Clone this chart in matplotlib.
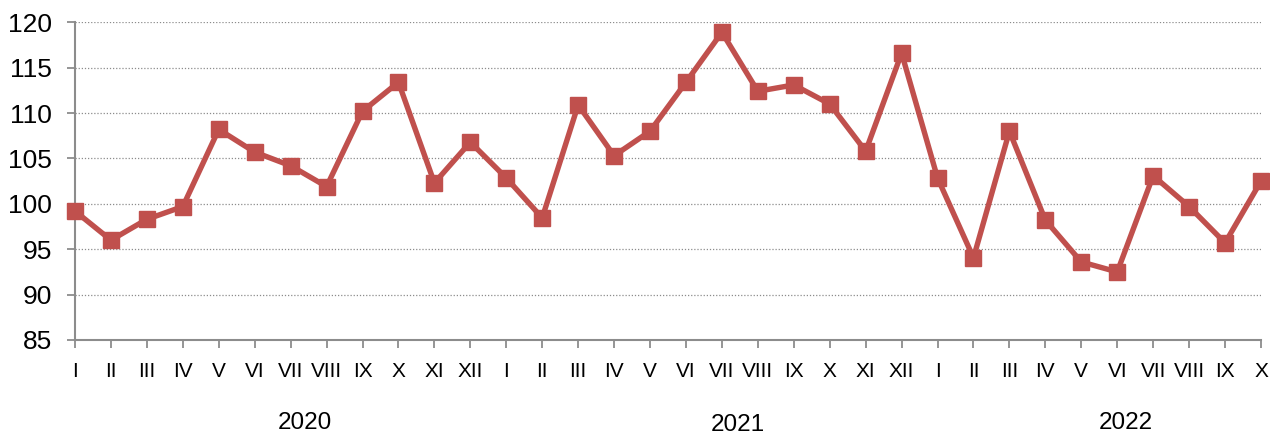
import matplotlib
matplotlib.use("Agg")
import matplotlib.pyplot as plt
import matplotlib.transforms as mtransforms

plt.rcParams['font.family'] = ['Liberation Sans', 'DejaVu Sans']

months = ["I", "II", "III", "IV", "V", "VI", "VII", "VIII", "IX", "X", "XI", "XII",
          "I", "II", "III", "IV", "V", "VI", "VII", "VIII", "IX", "X", "XI", "XII",
          "I", "II", "III", "IV", "V", "VI", "VII", "VIII", "IX", "X"]
values = [99.2, 96.0, 98.3, 99.7, 108.2, 105.7, 104.2, 101.9, 110.2, 113.4, 102.3, 106.8,
          102.85, 98.45, 110.9, 105.3, 108.0, 113.4, 118.9, 112.4, 113.1, 111.0, 105.8, 116.6,
          102.85, 94.05, 108.0, 98.2, 93.6, 92.5, 103.1, 99.7, 95.7, 102.5]
years = ["2020", "2021", "2022"]
year_x = [6.4, 18.45, 29.25]
year_y = [-0.26, -0.268, -0.26]

fig = plt.figure(figsize=(12.7, 4.37), dpi=100)
ax = fig.add_axes([75 / 1270, 1 - 340 / 437, (1261 - 75) / 1270, (340 - 22.3) / 437])

x = list(range(len(values)))
ax.plot(x, values, color='#C0504D', linewidth=3.9, marker='s', markersize=11,
        markerfacecolor='#C0504D', markeredgecolor='#C0504D', clip_on=False, zorder=3)

ax.set_xlim(0, len(values) - 1)
ax.set_ylim(85, 120)
ax.set_yticks(range(85, 121, 5))
ax.set_xticks(x)
ax.set_xticklabels(months)

ax.yaxis.grid(True, linestyle=(0, (1, 1.5)), color='#8c8c8c', linewidth=0.9)
ax.set_axisbelow(True)
for s in ['top', 'right']:
    ax.spines[s].set_visible(False)
for s in ['left', 'bottom']:
    ax.spines[s].set_color('#8c8c8c')
    ax.spines[s].set_linewidth(1.5)

ax.tick_params(axis='y', labelsize=19, length=6, width=1.3, color='#8c8c8c', pad=10.5)
ax.tick_params(axis='x', labelsize=15, length=5.5, width=1.3, color='#8c8c8c', pad=10)

trans = mtransforms.blended_transform_factory(ax.transData, ax.transAxes)
for yr, xp, yp in zip(years, year_x, year_y):
    ax.text(xp, yp, yr, transform=trans, ha='center', va='center', fontsize=17.5)

fig.savefig("out.png", dpi=100)
